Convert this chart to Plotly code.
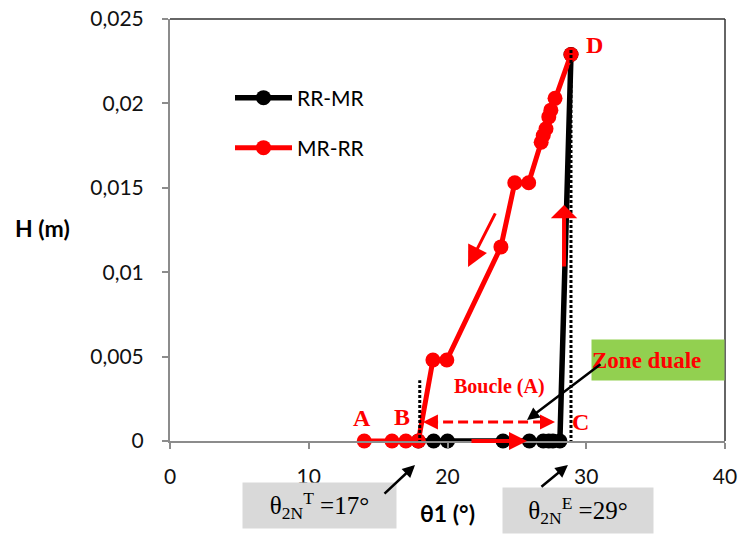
import plotly.graph_objects as go

# RR-MR branch (increasing wedge angle)
rr_mr_theta = [17.9, 19.0, 20.0, 24.0, 25.9, 26.9, 27.3, 27.6, 28.1, 28.9]
rr_mr_h = [0, 0, 0, 0, 0, 0, 0, 0, 0, 0.0229]

# MR-RR branch (decreasing wedge angle, from D back to A)
mr_rr_theta = [28.9, 27.75, 27.45, 27.3, 27.1, 26.9, 26.75, 25.85, 24.85, 23.85,
               19.95, 18.95, 17.9, 17.0, 16.0, 14.0]
mr_rr_h = [0.0229, 0.0203, 0.0196, 0.0192, 0.0185, 0.0181, 0.0177, 0.0153, 0.0153, 0.0115,
           0.0048, 0.0048, 0, 0, 0, 0]

x_ticks = [0, 10, 20, 30, 40]
x_ticktext = ["0", "10", "20", "30", "40"]
y_ticks = [0, 0.005, 0.01, 0.015, 0.02, 0.025]
y_ticktext = ["0", "0,005", "0,01", "0,015", "0,02", "0,025"]

theta_t = 17    # transition angle (MR -> RR)
theta_e = 29    # detachment angle (RR -> MR)

SANS = "Lato"
SERIF = "Liberation Serif"
RED = "#ff0000"

# figure geometry (px)
L, R, T, B = 170, 14, 19, 94
W, H = 739, 535
pw, ph = W - L - R, H - T - B


def px_x(px):
    return (px - L) / pw


def px_y(py):
    return 1 - (py - T) / ph


fig = go.Figure()

fig.add_trace(go.Scatter(
    x=rr_mr_theta, y=rr_mr_h, mode="lines+markers", name="RR-MR",
    line=dict(color="black", width=5.5), marker=dict(color="black", size=15),
    cliponaxis=False, legend="legend", showlegend=True,
))
fig.add_trace(go.Scatter(
    x=mr_rr_theta, y=mr_rr_h, mode="lines+markers", name="MR-RR",
    line=dict(color=RED, width=5), marker=dict(color=RED, size=15),
    cliponaxis=False, legend="legend2", showlegend=True,
))

shapes = []
# plot frame (top and right)
shapes.append(dict(type="line", xref="paper", yref="paper", x0=0, x1=1, y0=1, y1=1,
                   line=dict(color="#333333", width=1.5)))
shapes.append(dict(type="line", xref="paper", yref="paper", x0=1, x1=1, y0=0, y1=1,
                   line=dict(color="#333333", width=1.5)))
# dotted markers of the two critical angles
shapes.append(dict(type="line", xref="x", yref="y", x0=18.0, x1=18.0, y0=-0.0019, y1=0.0036,
                   line=dict(color="black", width=3, dash="3px,2px"), layer="above"))
shapes.append(dict(type="line", xref="x", yref="y", x0=28.9, x1=28.9, y0=-0.0019, y1=0.0233,
                   line=dict(color="black", width=3, dash="3px,2px"), layer="above"))
# dashed hysteresis loop span
shapes.append(dict(type="line", xref="x", yref="y", x0=18.6, x1=27.4, y0=0.00113, y1=0.00113,
                   line=dict(color=RED, width=3, dash="10px,5px"), layer="above"))

ann = []


def label(text, x, y, size=24, color=RED):
    ann.append(dict(x=x, y=y, xref="x", yref="y", text=f"<b>{text}</b>",
                    showarrow=False, font=dict(family=SERIF, size=size, color=color)))


label("A", 13.84, 0.00136)
label("B", 16.72, 0.00142)
label("C", 29.62, 0.00113)
label("D", 30.63, 0.02346)
label("Boucle (A)", 23.78, 0.0032, size=20)


def arrow(x, y, ax, ay, color, width, head, size, data_tail=True, yref="y"):
    d = dict(x=x, y=y, xref="x", yref=yref, text="", showarrow=True,
             arrowcolor=color, arrowwidth=width, arrowhead=head, arrowsize=size, ax=ax, ay=ay)
    if data_tail:
        d.update(axref="x", ayref="y")
    ann.append(d)


# red direction arrows
arrow(25.73, 0, 21.62, 0, RED, 4, 2, 0.9)
arrow(28.4, 0.01398, 28.4, 0.01025, RED, 4, 1, 1.1)
arrow(21.48, 0.01031, 23.5, 0.01357, RED, 3, 2, 1.4)
# heads of the dashed loop arrow
arrow(18.23, 0.00113, 16, 0, RED, 3, 2, 1.0, data_tail=False)
arrow(27.75, 0.00113, -16, 0, RED, 3, 2, 1.0, data_tail=False)


def box(text, cx, cy, font, **kw):
    ann.append(dict(x=px_x(cx), y=px_y(cy), xref="paper", yref="paper", showarrow=False,
                    xanchor="center", yanchor="middle", text=text, font=font, **kw))


# "Zone duale" tag
box("<b>Zone duale</b>", 658, 360, dict(family=SERIF, size=23, color=RED),
    bgcolor="#92d050", width=132, height=40, borderpad=0, align="left")

# critical angle boxes
box(f"θ<sub>2N</sub><sup>T</sup> ={theta_t}°", 319.5, 505.5,
    dict(family=SERIF, size=25, color="black"),
    bgcolor="#d9d9d9", width=153, height=45, borderpad=0)
box(f"θ<sub>2N</sub><sup>E</sup> ={theta_e}°", 578, 510.5,
    dict(family=SERIF, size=25, color="black"),
    bgcolor="#d9d9d9", width=150, height=45, borderpad=0)

# axis titles
box("<b>H (m)</b>", 42, 228, dict(family=SANS, size=23, color="black"))
box("<b>θ1 (°)</b>", 447, 513, dict(family=SANS, size=23, color="black"))

# black pointers (drawn above the boxes)
arrow(17.66, px_y(465), -32, 30, "black", 2.5, 2, 1.0, data_tail=False, yref="paper")
arrow(28.68, px_y(465), -28, 23, "black", 2.5, 2, 1.0, data_tail=False, yref="paper")
arrow(25.73, 0.00124, 75, -57, "black", 2.5, 2, 1.0, data_tail=False)

axis_common = dict(showgrid=False, zeroline=False, showline=True, linecolor="#8c8c8c",
                   linewidth=2, ticks="outside", ticklen=6, tickcolor="#8c8c8c", tickwidth=1.5,
                   automargin=False,
                   tickfont=dict(family=SANS, size=21, color="#111111"))

legend_common = dict(xanchor="left", yanchor="middle", bgcolor="rgba(0,0,0,0)", itemwidth=57,
                     font=dict(family=SANS, size=21, color="black"))

fig.update_layout(
    width=W, height=H, autosize=False, showlegend=True,
    margin=dict(l=L, r=R, t=T, b=B, pad=0),
    paper_bgcolor="white", plot_bgcolor="white",
    xaxis=dict(range=[0, 40], tickvals=x_ticks, ticktext=x_ticktext,
               ticklabelstandoff=10, **axis_common),
    yaxis=dict(range=[0, 0.025], tickvals=y_ticks, ticktext=y_ticktext,
               ticklabelstandoff=14, **axis_common),
    shapes=shapes, annotations=ann,
    legend=dict(x=px_x(230), y=px_y(98), **legend_common),
    legend2=dict(x=px_x(230), y=px_y(148), **legend_common),
)

fig.write_html("out.html")
